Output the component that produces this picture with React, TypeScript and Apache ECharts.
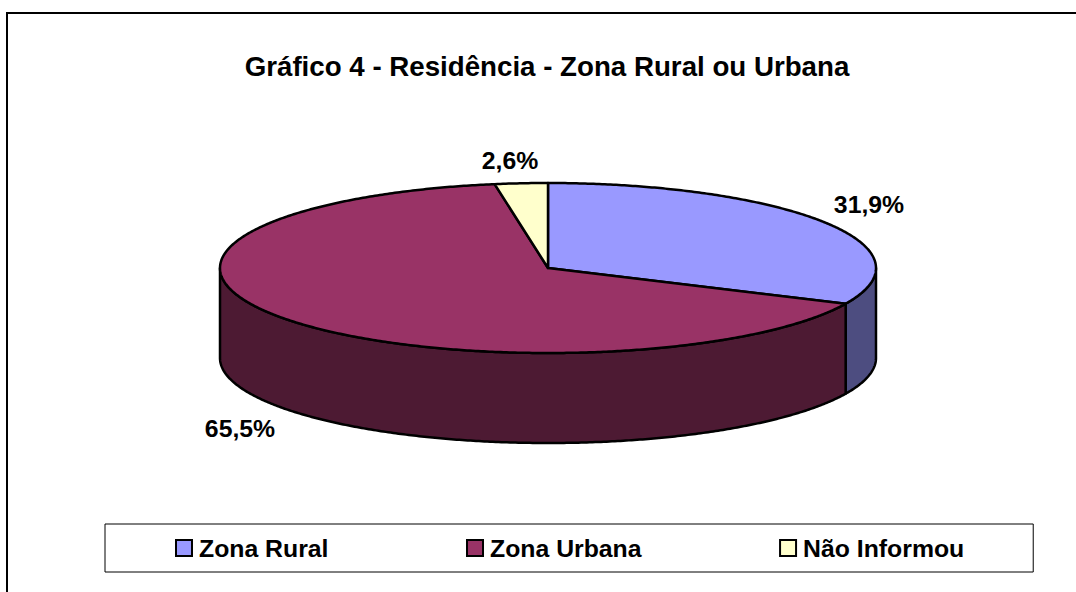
import React, { useEffect, useRef } from "react";
import * as echarts from "echarts";

const titleText = "Gráfico 4 - Residência - Zona Rural ou Urbana";
const categories = ["Zona Rural", "Zona Urbana", "Não Informou"];
const values = [31.9, 65.5, 2.6];
const valueLabels = ["31,9%", "65,5%", "2,6%"];
const topColors = ["#9999FF", "#993366", "#FFFFCC"];
const sideColors = ["#4D4D80", "#4D1A33", "#808066"];

// Layout of the tilted pie, in pixels
const CX = 548;
const CY = 268;
const RX = 328;
const RY = 85;
const DEPTH = 90;
const labelPositions = [
  [869, 204],
  [240, 428],
  [510, 160],
];
const FONT = "bold 24.8px 'Liberation Sans', Arial, sans-serif";

const total = values.reduce((a, b) => a + b, 0);

// Angles run clockwise from the top of the pie, in degrees
function pt(deg: number, dy = 0): number[] {
  const r = (deg * Math.PI) / 180;
  return [CX + RX * Math.sin(r), CY - RY * Math.cos(r) + dy];
}

function arc(from: number, to: number, dy = 0): number[][] {
  const pts: number[][] = [];
  const n = Math.max(1, Math.ceil(Math.abs(to - from) * 2));
  for (let i = 0; i <= n; i++) pts.push(pt(from + ((to - from) * i) / n, dy));
  return pts;
}

function sliceRender(index: number) {
  return () => {
    const before = values.slice(0, index).reduce((a, b) => a + b, 0);
    const start = (before / total) * 360;
    const end = ((before + values[index]) / total) * 360;
    const children: any[] = [];
    const lineStyle = { stroke: "#000", lineWidth: 2.5, lineJoin: "round" };

    // Only the part of the rim facing the viewer (90 to 270 degrees) shows
    const sFrom = Math.max(start, 90);
    const sTo = Math.min(end, 270);
    if (sTo > sFrom) {
      children.push({
        type: "polygon",
        shape: { points: [...arc(sFrom, sTo), ...arc(sTo, sFrom, DEPTH)] },
        style: { fill: sideColors[index], ...lineStyle },
      });
    }
    children.push({
      type: "polygon",
      shape: { points: [[CX, CY], ...arc(start, end)] },
      style: { fill: topColors[index], ...lineStyle },
    });
    children.push({
      type: "text",
      x: labelPositions[index][0],
      y: labelPositions[index][1],
      style: {
        text: valueLabels[index],
        font: FONT,
        fill: "#000",
        align: "center",
        verticalAlign: "middle",
      },
    });
    return { type: "group", children };
  };
}

export default function App() {
  const ref = useRef<HTMLDivElement>(null);
  useEffect(() => {
    const chart = echarts.init(ref.current!, null, { renderer: "svg" });
    chart.setOption({
      animation: false,
      backgroundColor: "#fff",
      title: {
        text: titleText,
        left: 542,
        top: 47,
        textAlign: "center",
        textStyle: {
          fontFamily: "'Liberation Sans', Arial, sans-serif",
          fontWeight: "bold",
          fontSize: 27.7,
          color: "#000",
        },
      },
      legend: {
        data: categories,
        left: 105,
        top: 524,
        orient: "horizontal",
        icon: "rect",
        selectedMode: false,
        backgroundColor: "#fff",
        borderColor: "#000",
        borderWidth: 1,
        padding: [11.5, 69, 11.5, 70],
        itemGap: 137.5,
        itemWidth: 16,
        itemHeight: 16,
        itemStyle: { borderColor: "#000", borderWidth: 2 },
        textStyle: {
          fontFamily: "'Liberation Sans', Arial, sans-serif",
          fontWeight: "bold",
          fontSize: 24.8,
          color: "#000",
          padding: [1, 0, 0, 2],
        },
      },
      graphic: [
        {
          type: "rect",
          silent: true,
          shape: { x: 7, y: 13, width: 1200, height: 700 },
          style: { fill: "none", stroke: "#000", lineWidth: 2 },
          z: -1,
        },
      ],
      series: categories.map((name, i) => ({
        type: "custom",
        name,
        coordinateSystem: "none",
        data: [values[i]],
        itemStyle: { color: topColors[i] },
        renderItem: sliceRender(i),
        silent: true,
      })),
    });
    return () => chart.dispose();
  }, []);
  return (
    <div
      ref={ref}
      style={{ position: "absolute", left: 0, top: 0, width: 1076, height: 592 }}
    />
  );
}
